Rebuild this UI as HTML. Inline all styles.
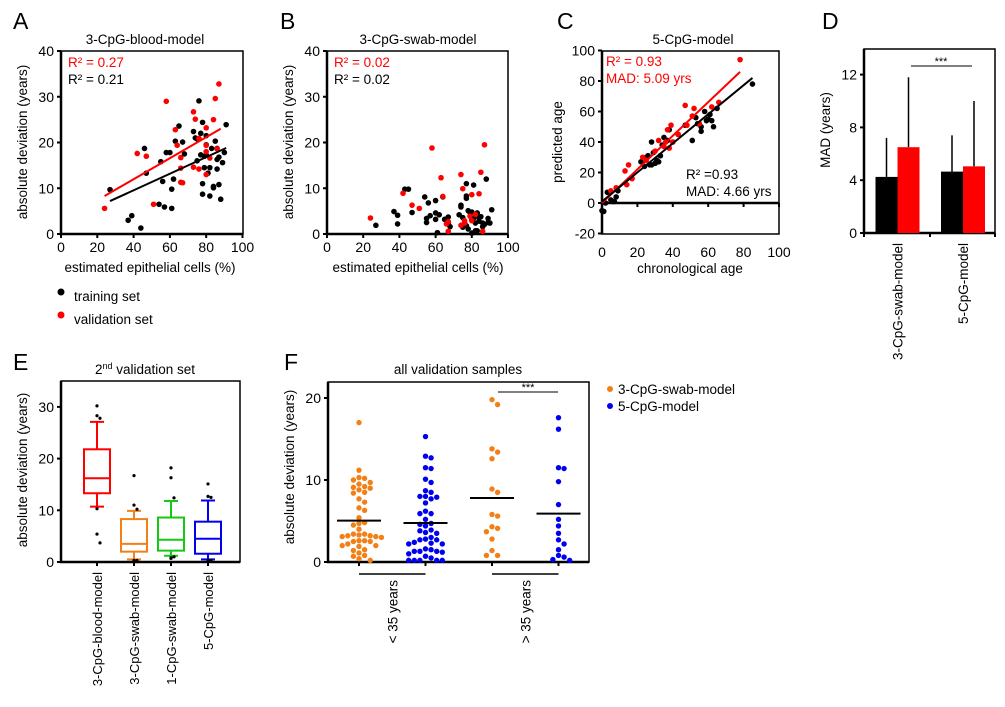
<!DOCTYPE html>
<html><head><meta charset="utf-8">
<style>
html,body{margin:0;padding:0;background:#fff;}
svg{display:block;font-family:"Liberation Sans",Arial,sans-serif;}
</style></head>
<body>
<svg id="fig" width="1005" height="707" viewBox="0 0 1005 707">
<rect width="1005" height="707" fill="#fff"/>
<g font-size="23" fill="#000">
<text x="13" y="29">A</text>
<text x="280" y="29">B</text>
<text x="557" y="29">C</text>
<text x="822" y="29">D</text>
<text x="13" y="370">E</text>
<text x="284" y="370">F</text>
</g>
<g font-size="13.5" text-anchor="middle">
<text x="145" y="44">3-CpG-blood-model</text>
<text x="418" y="44">3-CpG-swab-model</text>
<text x="693" y="44">5-CpG-model</text>
<text x="145" y="374">2<tspan font-size="9" dy="-5">nd</tspan><tspan dy="5"> validation set</tspan></text>
<text x="458" y="374">all validation samples</text>
<text x="150" y="272">estimated epithelial cells (%)</text>
<text x="418" y="272">estimated epithelial cells (%)</text>
<text x="690" y="273">chronological age</text>
<text transform="translate(27,142) rotate(-90)">absolute deviation (years)</text>
<text transform="translate(293,142) rotate(-90)">absolute deviation (years)</text>
<text transform="translate(562,142) rotate(-90)">predicted age</text>
<text transform="translate(830,130) rotate(-90)">MAD (years)</text>
<text transform="translate(27,470) rotate(-90)">absolute deviation (years)</text>
<text transform="translate(294,467) rotate(-90)">absolute deviation (years)</text>
</g>
<g font-size="13.5">
<text x="68" y="67" fill="#f00">R² = 0.27</text>
<text x="68" y="84" fill="#000">R² = 0.21</text>
<text x="334" y="67" fill="#f00">R² = 0.02</text>
<text x="334" y="84" fill="#000">R² = 0.02</text>
<text x="606" y="66" fill="#f00">R² = 0.93</text>
<text x="606" y="83" fill="#f00">MAD: 5.09 yrs</text>
<text x="686" y="179" fill="#000">R² =0.93</text>
<text x="686" y="196" fill="#000">MAD: 4.66 yrs</text>
<circle cx="61" cy="292" r="3.5" fill="#000"/>
<text x="74" y="301">training set</text>
<circle cx="61" cy="315" r="3.5" fill="#f00"/>
<text x="74" y="324">validation set</text>
<circle cx="610" cy="389" r="3" fill="#f28016"/>
<text x="618" y="394">3-CpG-swab-model</text>
<circle cx="610" cy="406" r="3" fill="#0000f0"/>
<text x="618" y="411">5-CpG-model</text>
</g>
</svg>
<script>
// ---- data ----
const pctTicks=[0,20,40,60,80,100];
const devTicksAB=[0,10,20,30,40];
const aTrainX=[27,37,39,44,46,47,55,56,57,58,54,60,61,61,62,63,65,67,68,73,74,75,76,77,77,78,78,78,79,79,80,80,81,82,82,83,84,84,85,86,86,86,87,87,88,89,90,91,75,80];
const aTrainY=[9.7,3,4,1.3,18.7,13.3,15.8,11.5,5.9,17.8,6.5,17.8,9.8,5.6,12,20.3,23.6,20.1,17.5,22.4,21,16,29.1,22,17.3,24.4,11,8.7,14.5,17,17.3,21.5,13.3,8.3,14.5,18.7,10.4,10.1,20.3,16.3,14.2,18.7,16.8,10.8,7.6,15.6,17.8,23.9,20.8,19.5];
const aValX=[24,42,47,51,58,63,64,66,66,66,67,73,74,73,76,76,80,80,80,80,82,84,85,86,87];
const aValY=[5.6,17.6,17,6.5,29,22.8,19.4,16.7,14.4,11.3,11.2,26.7,25.1,14.6,14.2,20.9,23.2,19.4,18,13,16.6,25,29.6,18.6,32.8];
const aTrainFitX=[27,91], aTrainFitY=[7.2,18.8];
const aValFitX=[24,88], aValFitY=[8.3,23];
const bTrainX=[27,37,39,39,43,45,47,54,55,55,56,57,60,60,60,61,62,64,65,66,67,67,68,73,74,74,75,75,76,77,77,77,77,78,78,79,80,80,80,81,81,82,82,83,83,84,84,85,86,86,87,88,89,89,90,91];
const bTrainY=[1.9,4.9,4.1,2.2,9.8,9.8,4.7,8.1,3.4,2.5,6.8,4,4.6,7.3,3.2,0.3,4.2,8.1,3.2,3.2,2.4,3.7,1.6,4.2,5.9,6.3,1.5,3.6,2.4,1.8,7.8,8.3,11,5.1,1.1,4.7,0.2,3.1,4.8,3.5,10.7,2.4,0.7,0.7,4.6,3.5,2.8,3.8,2.4,1.6,2.1,12,3.4,2.5,2.4,5.3];
const bValX=[24,42,47,51,58,63,64,66,67,67,74,74,75,76,76,79,80,80,82,84,85,86,87];
const bValY=[3.5,8.9,6.3,5.6,18.8,12.3,8.2,2.2,0.6,2.7,13,1.9,9.9,2.4,2.9,3.9,8.6,2.9,4.3,8.8,13.5,0.6,19.5];
const ageTicksX=[0,20,40,60,80,100];
const ageTicksY=[-20,0,20,40,60,80,100];
const cTrainX=[0,1,2,3,5,6,7,8,9,22,24,25,26,27,28,28,29,30,31,32,33,34,35,37,38,40,43,47,51,53,54,56,56,58,59,60,61,62,63,65,85];
const cTrainY=[-5,-5.5,0,7,2,1,1,4,8,27,24,30,31,25,40,25,33,26,28,27,31,38,43,41,48,40,45,51,41,56,52,47,50,60,54,55,58,54,50,62,78];
const cValX=[5,8,13,14,15,17,23,25,30,32,35,36,37,38,39,40,43,47,48,51,52,55,62,66,78];
const cValY=[8,10,21,12,25,16,30,28,34,41,37,40,48,36,51,40,45,64,51,57,62,52,63,66,94];
const cTrainFitX=[0,85], cTrainFitY=[1,82];
const cValFitX=[0,78], cValFitY=[0,86];
const dModels=["3-CpG-swab-model","5-CpG-model"];
const dTrainMAD=[4.25,4.65], dValMAD=[6.5,5.05];
const dTrainErr=[7.2,7.4], dValErr=[11.8,10.0];
const dTicks=[0,4,8,12];
const eModels=["3-CpG-blood-model","3-CpG-swab-model","1-CpG-swab-model","5-CpG-model"];
const eColors=["#f00","#f28016","#14c814","#0000f0"];
const eQ1=[13.3,2.0,2.2,1.6], eMed=[16.2,3.5,4.3,4.5], eQ3=[21.8,8.3,8.6,7.8];
const eLow=[10.7,0.5,1.2,0.5], eHigh=[27.1,9.9,11.8,11.9];
const eOutliers=[[30.2,28.3,27.8,10.3,5.4,3.7],[16.7,11,10.2,0.3,0.3,0.3],[18.2,16.3,12.4,1.0,0.7,0.8],[15.1,12.7,12.5,0.3,0.3,0.3]];
const eTicks=[0,10,20,30];
const fGroups=["< 35 years","> 35 years"];
const fSwabYoung=[17,11.2,10.3,10.0,10.2,9.5,9.1,9.7,9.0,9.2,8.8,8.4,8.5,7.7,7.3,6.6,6.3,5.4,4.8,4.7,4.5,4.0,3.4,3.3,3.2,3.1,3.0,3.1,3.2,3.4,2.6,2.5,2.2,2.0,2.0,2.5,2.6,1.9,1.4,1.5,1.1,0.8,0.7,0.2,0.4];
const f5Young=[15.3,12.9,12.7,11.4,11.5,10.1,9.7,8.7,8.5,8.0,7.9,8.0,7.7,7.2,6.2,5.9,5.9,5.2,4.6,4.4,4.7,3.9,3.8,3.5,3.6,3.0,2.7,2.7,2.8,2.4,2.2,2.2,2.3,1.6,1.5,1.3,1.3,1.2,1.3,1.0,0.7,0.5,0.2,0.2,0.2,0.2,0.2];
const fSwabOld=[19.8,19.2,13.8,13.4,12.6,8.9,8.5,5.8,5.6,4.3,4.1,3.7,2.8,1.4,0.8,0.8];
const f5Old=[17.6,16.2,11.4,11.5,9.8,7.0,5.2,4.4,3.5,2.7,2.2,1.5,0.6,0.8,0.2,0.3];
const fMeans=[5.05,4.75,7.8,5.9];
const fTicks=[0,10,20];

// ---- helpers ----
const NS='http://www.w3.org/2000/svg';
const svg=document.getElementById('fig');
function el(tag,attrs){const e=document.createElementNS(NS,tag);for(const k in attrs)e.setAttribute(k,attrs[k]);svg.appendChild(e);return e;}
function txt(x,y,s,attrs){const e=el('text',Object.assign({x:x,y:y,'font-size':13},attrs||{}));e.textContent=s;return e;}

const xA=v=>61+v*1.815, yA=v=>234-v*4.575;
const xB=v=>327+v*1.81, yB=yA;
const xC=v=>602+v*1.77, yC=v=>203-v*1.525;
const yD=v=>233-v*13.2;
const yE=v=>562-v*5.17;
const eX=i=>97+i*37;
const yF=v=>562-v*8.2;
const fX=i=>359+i*66.5;

function frame(x0,y0,x1,y1,name){
  const r=el('rect',{x:x0,y:y0,width:x1-x0,height:y1-y0,fill:'none',stroke:'#000','stroke-width':1.5});
  
  
  const l=el('path',{d:`M${x0},${y0} V${y1} H${x1}`,fill:'none',stroke:'#000','stroke-width':2.5});
  
  
}
function yTicks(ticks,fy,x0,name){
  ticks.forEach(t=>{
    const k=el('line',{x1:x0-4,x2:x0,y1:fy(t),y2:fy(t),stroke:'#000','stroke-width':2});
    
    
    const l=txt(x0-7,fy(t)+5,String(t),{'text-anchor':'end','font-size':14});
    
    
  });
}
function xTicks(ticks,fx,yAxis,yLab,name){
  ticks.forEach(t=>{
    const k=el('line',{x1:fx(t),x2:fx(t),y1:yAxis,y2:yAxis+4,stroke:'#000','stroke-width':2});
    
    
    const l=txt(fx(t),yLab,String(t),{'text-anchor':'middle','font-size':14});
    
    
  });
}
function points(xs,ys,fx,fy,color,r,name){
  xs.forEach((v,i)=>{
    const c=el('circle',{cx:fx(v),cy:fy(ys[i]),r:r,fill:color});
    
    
  });
}
function fit(xs,ys,fx,fy,color,name){
  const l=el('line',{x1:fx(xs[0]),y1:fy(ys[0]),x2:fx(xs[1]),y2:fy(ys[1]),stroke:color,'stroke-width':2});
  
  
}

// ---- Panel A ----
frame(61,51,243,234,'plot-frame-a');
yTicks(devTicksAB,yA,61,'y-axis-a');
xTicks(pctTicks,xA,234,252,'x-axis-a');
points(aTrainX,aTrainY,xA,yA,'#000',2.8,'training-point-a');
points(aValX,aValY,xA,yA,'#f00',2.8,'validation-point-a');
fit(aValFitX,aValFitY,xA,yA,'#f00','validation-fit-a');
fit(aTrainFitX,aTrainFitY,xA,yA,'#000','training-fit-a');

// ---- Panel B ----
frame(327,51,508,234,'plot-frame-b');
yTicks(devTicksAB,yB,327,'y-axis-b');
xTicks(pctTicks,xB,234,252,'x-axis-b');
points(bTrainX,bTrainY,xB,yB,'#000',2.8,'training-point-b');
points(bValX,bValY,xB,yB,'#f00',2.8,'validation-point-b');

// ---- Panel C ----
(function(){
  const r=el('rect',{x:602,y:51,width:177,height:183,fill:'none',stroke:'#000','stroke-width':1.5});
  
  
  const a=el('line',{x1:602,x2:602,y1:51,y2:234,stroke:'#000','stroke-width':2.5});
  
  
  const z=el('line',{x1:602,x2:779,y1:yC(0),y2:yC(0),stroke:'#000','stroke-width':2.5});
  
  
})();
yTicks(ageTicksY,yC,602,'y-axis-c');
ageTicksX.forEach(t=>{
  const k=el('line',{x1:xC(t),x2:xC(t),y1:yC(0),y2:yC(0)+4,stroke:'#000','stroke-width':2});
  
  
  const l=txt(xC(t),257,String(t),{'text-anchor':'middle','font-size':14});
  
  
});
points(cTrainX,cTrainY,xC,yC,'#000',2.8,'training-point-c');
points(cValX,cValY,xC,yC,'#f00',2.8,'validation-point-c');
fit(cValFitX,cValFitY,xC,yC,'#f00','validation-fit-c');
fit(cTrainFitX,cTrainFitY,xC,yC,'#000','training-fit-c');

// ---- Panel D ----
frame(864,49,995,233,'plot-frame-d');
yTicks(dTicks,yD,864,'y-axis-d');
[864,930,995].forEach(x=>{
  const k=el('line',{x1:x,x2:x,y1:233,y2:237,stroke:'#000','stroke-width':2});
  
  
});
const dCenter=i=>897.5+i*65.5;
dModels.forEach((m,i)=>{
  const cx=dCenter(i);
  const eb1=el('line',{x1:cx-11,x2:cx-11,y1:yD(dTrainMAD[i]),y2:yD(dTrainErr[i]),stroke:'#000','stroke-width':1.5});
  
  
  const eb2=el('line',{x1:cx+11,x2:cx+11,y1:yD(dValMAD[i]),y2:yD(dValErr[i]),stroke:'#000','stroke-width':1.5});
  
  
  const b1=el('rect',{x:cx-22,y:yD(dTrainMAD[i]),width:22,height:yD(0)-yD(dTrainMAD[i]),fill:'#000'});
  
  
  const b2=el('rect',{x:cx,y:yD(dValMAD[i]),width:22,height:yD(0)-yD(dValMAD[i]),fill:'#f00'});
  
  
  const t=txt(0,0,m,{'text-anchor':'end','font-size':13.5,transform:`translate(${cx+5},243) rotate(-90)`});
  
  
});
(function(){
  const s=el('line',{x1:911,x2:972,y1:66,y2:66,stroke:'#000','stroke-width':1});
  
  
  const t=txt(941,65,'***',{'text-anchor':'middle','font-size':11});
  
  
})();

// ---- Panel E ----
frame(61,381,240,562,'plot-frame-e');
yTicks(eTicks,yE,61,'y-axis-e');
eModels.forEach((m,i)=>{
  const cx=eX(i), col=eColors[i];
  const k=el('line',{x1:cx,x2:cx,y1:562,y2:566,stroke:'#000','stroke-width':2});
  
  
  const w=el('path',{d:`M${cx},${yE(eQ3[i])}V${yE(eHigh[i])}M${cx-7},${yE(eHigh[i])}H${cx+7}M${cx},${yE(eQ1[i])}V${yE(eLow[i])}M${cx-7},${yE(eLow[i])}H${cx+7}`,stroke:col,'stroke-width':2,fill:'none'});
  
  
  const b=el('rect',{x:cx-13,y:yE(eQ3[i]),width:26,height:yE(eQ1[i])-yE(eQ3[i]),fill:'none',stroke:col,'stroke-width':2});
  
  
  const md=el('line',{x1:cx-13,x2:cx+13,y1:yE(eMed[i]),y2:yE(eMed[i]),stroke:col,'stroke-width':2});
  
  
  eOutliers[i].forEach((v,j)=>{
    const o=el('circle',{cx:cx+(j%3===2?3:0)-(v<1.2?(j%3-1)*3:0),cy:yE(v),r:1.6,fill:'#000'});
    
    
  });
  const t=txt(0,0,m,{'text-anchor':'end','font-size':13,transform:`translate(${cx+5},572) rotate(-90)`});
  
  
});

// ---- Panel F ----
frame(328,382,589,562,'plot-frame-f');
yTicks(fTicks,yF,328,'y-axis-f');
function swarm(vals,ci,color,name){
  const placed=[];const d=5.6;
  [...vals].sort((a,b)=>b-a).forEach(v=>{
    const y=yF(v);let off=0;
    for(let k=0;k<30;k++){
      const cand=k===0?0:(k%2? Math.ceil(k/2)*d : -Math.ceil(k/2)*d);
      if(placed.every(p=>Math.hypot(p[0]-cand,p[1]-y)>=5.4)){off=cand;break;}
    }
    placed.push([off,y]);
    const c=el('circle',{cx:fX(ci)+off,cy:y,r:2.7,fill:color});
    
    
  });
}
swarm(fSwabYoung,0,'#f28016','swab-point-young');
swarm(f5Young,1,'#0000f0','5cpg-point-young');
swarm(fSwabOld,2,'#f28016','swab-point-old');
swarm(f5Old,3,'#0000f0','5cpg-point-old');
fMeans.forEach((m,i)=>{
  const k=el('line',{x1:fX(i),x2:fX(i),y1:562,y2:566,stroke:'#000','stroke-width':2});
  
  
  const l=el('line',{x1:fX(i)-22,x2:fX(i)+22,y1:yF(m),y2:yF(m),stroke:'#000','stroke-width':2});
  
  
});
fGroups.forEach((g,i)=>{
  const x0=fX(2*i), x1=fX(2*i+1);
  const b=el('line',{x1:x0,x2:x1,y1:574,y2:574,stroke:'#000','stroke-width':1.5});
  
  
  const t=txt(0,0,g,{'text-anchor':'end','font-size':13.5,transform:`translate(${(x0+x1)/2+5},580) rotate(-90)`});
  
  
});
(function(){
  const s=el('line',{x1:498,x2:558,y1:392,y2:392,stroke:'#000','stroke-width':1});
  
  
  const t=txt(528,391,'***',{'text-anchor':'middle','font-size':11});
  
  
})();
</script>
</body></html>
